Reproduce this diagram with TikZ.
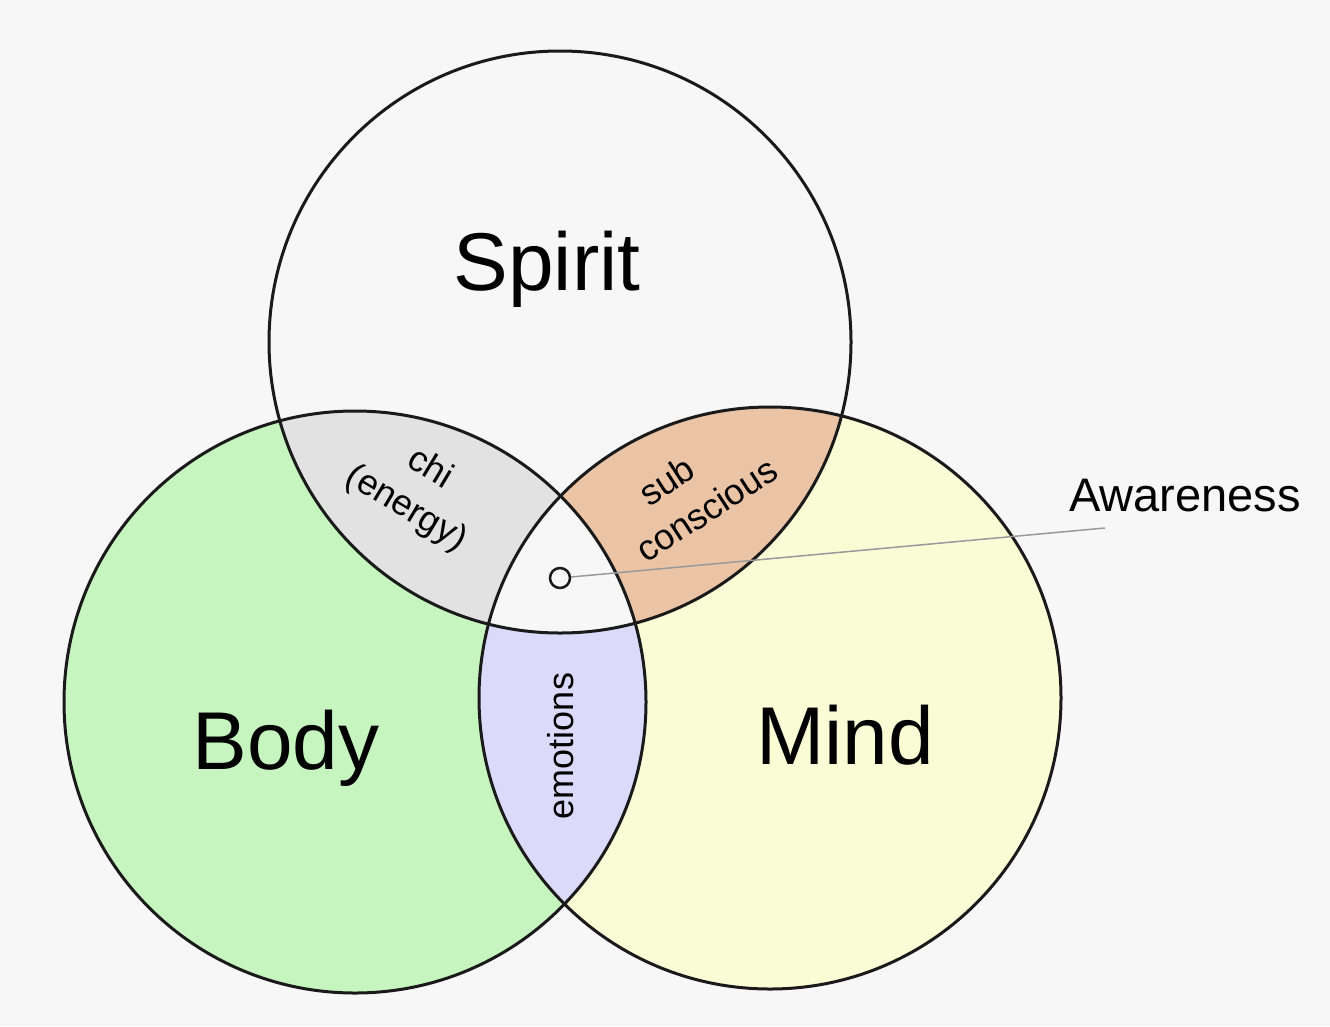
\documentclass[tikz,border=0pt]{standalone}
\usepackage{fontspec}
\setmainfont{Liberation Sans}
\definecolor{bgc}{HTML}{F7F7F7}
\definecolor{bodyc}{HTML}{C6F5C0}
\definecolor{mindc}{HTML}{FAFCD6}
\definecolor{chic}{HTML}{E2E2E2}
\definecolor{subc}{HTML}{EBC4A6}
\definecolor{emoc}{HTML}{DCDAFA}
\definecolor{linec}{HTML}{1A1A1A}
\tikzset{
  ring/.style={draw=linec, line width=3pt},
  biglabel/.style={anchor=base, inner sep=0pt, font=\fontsize{82}{90}\selectfont},
  smalllabel/.style={inner sep=0pt, align=center, font=\fontsize{36}{46}\selectfont},
  awlabel/.style={anchor=base, inner sep=0pt, font=\fontsize{47}{52}\selectfont},
  dot/.style={circle, draw=linec, line width=2.5pt, minimum size=20pt, inner sep=0pt, fill=bgc},
  pointer/.style={draw=gray!80, line width=1.5pt}
}
\begin{document}
\begin{tikzpicture}[x=1pt,y=-1pt]
\fill[bgc] (0,0) rectangle (1330,1026);
\useasboundingbox (0,0) rectangle (1330,1026);
\def\R{291}
\coordinate (S) at (560,342);
\coordinate (B) at (355,702);
\coordinate (M) at (770,698);
% base fills
\fill[bodyc] (B) circle (\R);
\fill[mindc] (M) circle (\R);
% pairwise intersections
\begin{scope}
  \clip (S) circle (\R);
  \fill[chic] (B) circle (\R);
  \fill[subc] (M) circle (\R);
\end{scope}
\begin{scope}
  \clip (B) circle (\R);
  \fill[emoc] (M) circle (\R);
  \clip (M) circle (\R);
  \fill[bgc] (S) circle (\R);
\end{scope}
% outlines
\draw[ring] (S) circle (\R);
\draw[ring] (B) circle (\R);
\draw[ring] (M) circle (\R);
% labels
\node[biglabel] (spirit) at (547,290) {Spirit};
\node[biglabel] (body) at (286,769) {Body};
\node[biglabel] (mind) at (845,764) {Mind};
\node[smalllabel, rotate=-31] (chi) at (418,489) {chi\\(energy)};
\node[smalllabel, rotate=33] (sub) at (694,490) {sub\hspace*{1em}\\conscious};
\node[smalllabel, rotate=90] (emo) at (561,746) {emotions};
% awareness
\node[awlabel] (awl) at (1185,511) {Awareness};
\coordinate (awend) at (1105,528);
\node[dot] (aw) at (560,578) {};
\draw[pointer] (aw) -- (awend);
\end{tikzpicture}
\end{document}
